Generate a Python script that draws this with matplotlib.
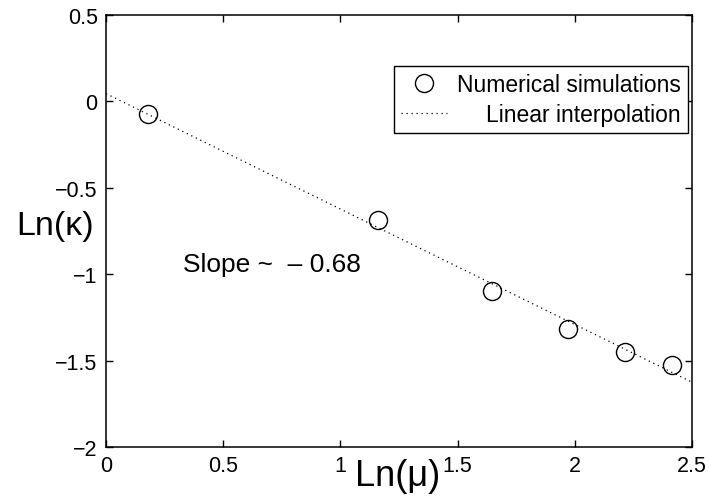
import matplotlib
matplotlib.use("Agg")
import matplotlib.pyplot as plt

# Data
ln_mu = [0.18, 1.16, 1.645, 1.972, 2.214, 2.413]
ln_kappa = [-0.073, -0.685, -1.095, -1.317, -1.452, -1.525]
fit_x = [0.0, 2.5]
fit_y = [0.045, -1.625]
xticks = [0, 0.5, 1, 1.5, 2, 2.5]
xtick_labels = ["0", "0.5", "1", "1.5", "2", "2.5"]
yticks = [-2, -1.5, -1, -0.5, 0, 0.5]
ytick_labels = ["\u22122", "\u22121.5", "\u22121", "\u22120.5", "0", "0.5"]
series_labels = ["Numerical simulations", "Linear interpolation"]
slope_text = "Slope ~  \u2013 0.68"

plt.rcParams['font.family'] = ['Liberation Sans', 'DejaVu Sans']

fig = plt.figure(figsize=(7.1, 5.02), dpi=100)
ax = fig.add_axes([106/710, 1-448/502, 586/710, 432/502])

ax.plot(ln_mu, ln_kappa, linestyle='none', marker='o', markersize=13,
        markerfacecolor='none', markeredgecolor='black', markeredgewidth=1.0,
        label=series_labels[0])
ax.plot(fit_x, fit_y, color='black', linestyle=(0, (1, 3)), linewidth=0.9,
        label=series_labels[1])

ax.set_xlim(0, 2.5)
ax.set_ylim(-2, 0.5)
ax.set_xticks(xticks)
ax.set_xticklabels(xtick_labels)
ax.set_yticks(yticks)
ax.set_yticklabels(ytick_labels)
ax.tick_params(direction='in', length=5, width=1, labelsize=15.5, top=True, right=True,
               pad=6, colors='black')
for s in ax.spines.values():
    s.set_linewidth(1.1)

ax.set_xlabel("Ln(\u03bc)", fontsize=26)
ax.xaxis.set_label_coords(0.498, -0.025)
ax.set_ylabel("Ln(\u03ba)", fontsize=24.5, rotation=0, ha='center', va='center')
ax.yaxis.set_label_coords(-0.087, 0.512)

ax.text(0.33, -0.98, slope_text, fontsize=19, ha='left', va='baseline')

leg = ax.legend(loc='upper right', bbox_to_anchor=(0.993, 0.882), fontsize=16.5,
                frameon=True, fancybox=False, framealpha=1, edgecolor='black',
                labelspacing=0.3, borderpad=0.3, handlelength=2.0,
                handletextpad=0.45, borderaxespad=0)
leg.get_frame().set_linewidth(1.0)

# right-align legend texts (MATLAB style)
renderer = fig.canvas.get_renderer()
texts = leg.get_texts()
widths = [t.get_window_extent(renderer).width for t in texts]
wmax = max(widths)
for t, w in zip(texts, widths):
    t.set_x(wmax - w)

fig.savefig("out.png", dpi=100)
